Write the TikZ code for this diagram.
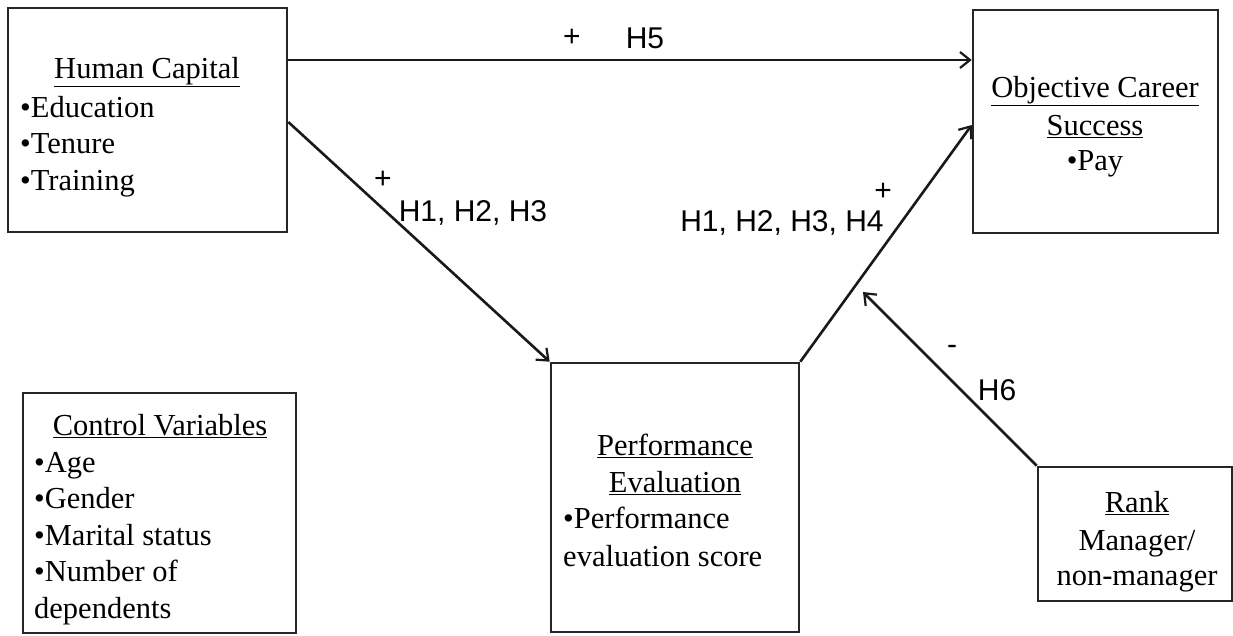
\documentclass[tikz,border=0pt]{standalone}
\usepackage{fontspec}
\setmainfont{Liberation Serif}
\newfontfamily\lblfont{Liberation Sans}
\usetikzlibrary{arrows.meta}
\begin{document}
\begin{tikzpicture}[x=1pt,y=-1pt,
  box/.style={draw=black!85, line width=2.6pt, inner sep=0pt, fill=none},
  txt/.style={inner sep=0pt, anchor=base, font=\fontsize{30.5}{36}\selectfont},
  itm/.style={txt, anchor=base west},
  lbl/.style={inner sep=0pt, font=\lblfont\fontsize{30}{36}\selectfont},
  conn/.style={line width=2.6pt, draw=black!90, -{Straight Barb[length=10pt,width=16pt,line width=2.2pt]}}]
\useasboundingbox (0,0) rectangle (1233,635);
% boxes
\node[box, minimum width=279pt, minimum height=224pt] (hc) at (147.5,120) {};
\node[box, minimum width=245pt, minimum height=223pt] (oc) at (1095.5,121.5) {};
\node[box, minimum width=273pt, minimum height=240pt] (cv) at (159.5,513) {};
\node[box, minimum width=248pt, minimum height=269pt] (pe) at (675,497.5) {};
\node[box, minimum width=194pt, minimum height=134pt] (rk) at (1135,534) {};
% Human Capital text
\node[txt] (hct) at (147,78) {\underline{Human Capital}};
\node[itm] (hc1) at (20,117) {•Education};
\node[itm] (hc2) at (20,153.5) {•Tenure};
\node[itm] (hc3) at (20,190) {•Training};
% Objective Career Success text
\node[txt] (oct1) at (1095,97) {\underline{Objective Career}};
\node[txt] (oct2) at (1095,135) {\underline{Success}};
\node[txt] (oct3) at (1095,170) {•Pay};
% Control variables
\node[txt] (cvt) at (160,435) {\underline{Control Variables}};
\node[itm] (cv1) at (34,472) {•Age};
\node[itm] (cv2) at (34,508.5) {•Gender};
\node[itm] (cv3) at (34,545) {•Marital status};
\node[itm] (cv4) at (34,581.5) {•Number of};
\node[itm] (cv5) at (34,618) {dependents};
% Performance evaluation
\node[txt] (pet1) at (675,455) {\underline{Performance}};
\node[txt] (pet2) at (675,492) {\underline{Evaluation}};
\node[itm] (pe1) at (563,528) {•Performance};
\node[itm] (pe2) at (563,566) {evaluation score};
% Rank
\node[txt] (rkt) at (1137,512) {\underline{Rank}};
\node[txt] (rk1) at (1137,550) {Manager/};
\node[txt] (rk2) at (1137,585) {non-manager};
% helper coordinates
\coordinate (y60) at (0,60);
\coordinate (y122) at (0,122);
\coordinate (y125) at (0,125);
\coordinate (h6tip) at (863,292);
% connectors
\draw[conn] (hc.east |- y60) -- (oc.west |- y60);
\draw[conn] (hc.east |- y122) -- (pe.north west);
\draw[conn] (pe.north east) -- (oc.west |- y125);
\draw[conn] (rk.north west) -- (h6tip);
% labels
\node[lbl] (l5p) at (572,38) {+};
\node[lbl] (l5) at (645,38) {H5};
\node[lbl] (l1p) at (383,180) {+};
\node[lbl] (l1) at (473,213) {H1, H2, H3};
\node[lbl] (l4p) at (883,192) {+};
\node[lbl] (l4) at (782,223) {H1, H2, H3, H4};
\node[lbl] (l6m) at (952,350) {-};
\node[lbl] (l6) at (997,390) {H6};
\end{tikzpicture}
\end{document}
